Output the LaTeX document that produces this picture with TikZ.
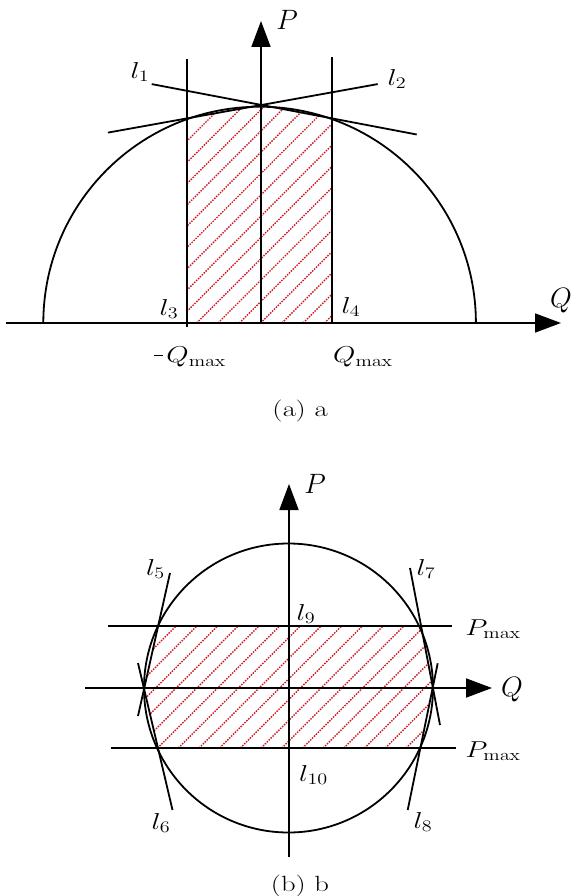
\RequirePackage{fix-cm}
\documentclass[tikz,border=0pt]{standalone}
\usetikzlibrary{arrows.meta}
\definecolor{hatchred}{RGB}{205,25,35}
\newcommand{\wideA}[1]{\scalebox{1.25}[1]{#1}}
\newcommand{\wideC}[1]{\scalebox{1.3}[1]{#1}}
\begin{document}
\begin{tikzpicture}[x=1pt,y=-1pt,
  ln/.style={line width=1.8pt, black},
  axis/.style={line width=1.8pt, black, -{Triangle[length=26pt,width=19pt]}},
  hatch/.style={hatchred, line width=1.4pt, dash pattern=on 1.5pt off 1.2pt},
  lab/.style={font=\fontsize{23}{26}\selectfont, inner sep=0pt},
  alab/.style={font=\fontsize{28}{32}\selectfont, inner sep=0pt},
  captxt/.style={font=\fontsize{22}{26}\selectfont, inner sep=0pt}]
\useasboundingbox (0,0) rectangle (573,896);

% ---------------- (a) ----------------
\coordinate (Qs1) at (6,323);
\coordinate (Qe1) at (561,323);
\coordinate (Ps1) at (261,323);
\coordinate (Pe1) at (261,21);
\coordinate (A) at (261.5,105);
\coordinate (L1a) at (151.7,84.1);
\coordinate (L1b) at (416.7,134.5);
\coordinate (L2a) at (108,132.6);
\coordinate (L2b) at (377.7,84.1);
\coordinate (V3a) at (187.3,327);
\coordinate (V3b) at (187.3,59);
\coordinate (V4a) at (332.3,323);
\coordinate (V4b) at (332.3,57);
\coordinate (C1L) at (43.3,323);

\begin{scope}
  \clip (187.3,323) -- (187.3,118.4) -- (A) -- (332.3,118.5) -- (332.3,323) -- cycle;
  \foreach \k in {-11,...,8}
    \draw[hatch] ({196.7+21.3*\k},323) -- ++(300,-300);
\end{scope}

\draw[ln] (C1L) arc[start angle=180, end angle=360, radius=216.3];
\draw[ln] (V3a) -- (V3b);
\draw[ln] (V4a) -- (V4b);
\draw[ln] (L1a) -- (L1b);
\draw[ln] (L2a) -- (L2b);
\draw[axis] (Qs1) -- (Qe1);
\draw[axis] (Ps1) -- (Pe1);

\node[alab] (Pa) at (287,20) {$P$};
\node[alab] (Qa) at (561,301) {$Q$};
\node[lab] (l1) at (140,72) {\wideA{$l_1$}};
\node[lab] (l2) at (397,79) {\wideA{$l_2$}};
\node[lab] (l3) at (169,309) {\wideA{$l_3$}};
\node[lab] (l4) at (351,307) {\wideA{$l_4$}};
\node[lab] (mQ) at (190,357) {\wideA{\rule[6.5pt]{7pt}{1.5pt}\hspace{3pt}$Q_{\max}$}};
\node[lab] (pQ) at (363,357) {\wideA{$Q_{\max}$}};
\node[captxt] (capa) at (300,411) {\wideC{$\mathrm{(a)\ a}$}};

% ---------------- (b) ----------------
\coordinate (O2) at (288.5,688);
\coordinate (Qs2) at (85,688);
\coordinate (Qe2) at (492,688);
\coordinate (Ps2) at (289,857);
\coordinate (Pe2) at (289,484);
\coordinate (H1a) at (108,626);
\coordinate (H1b) at (452,626);
\coordinate (H2a) at (111,748);
\coordinate (H2b) at (456,748);
\coordinate (L5a) at (170,573);
\coordinate (L5b) at (138,716);
\coordinate (L6a) at (138,663);
\coordinate (L6b) at (172.5,810);
\coordinate (L7a) at (410,568);
\coordinate (L7b) at (440,725);
\coordinate (L8a) at (437.7,663.3);
\coordinate (L8b) at (407.7,810);

\begin{scope}
  \clip (158.1,626) -- (421,626) -- (432.8,688) -- (420.4,748) -- (158,748) -- (144,688) -- cycle;
  \foreach \k in {-8,...,13}
    \draw[hatch] ({178.3+20.7*\k},748) -- ++(200,-200);
\end{scope}

\draw[ln] (O2) circle[radius=144.5];
\draw[ln] (H1a) -- (H1b);
\draw[ln] (H2a) -- (H2b);
\draw[ln] (L5a) -- (L5b);
\draw[ln] (L6a) -- (L6b);
\draw[ln] (L7a) -- (L7b);
\draw[ln] (L8a) -- (L8b);
\draw[axis] (Qs2) -- (Qe2);
\draw[axis] (Ps2) -- (Pe2);

\node[alab] (Pb) at (315,484) {$P$};
\node[alab] (Qb) at (512,690) {$Q$};
\node[lab] (l5) at (155.5,569) {\wideA{$l_5$}};
\node[lab] (l6) at (161,823) {\wideA{$l_6$}};
\node[lab] (l7) at (426,569) {\wideA{$l_7$}};
\node[lab] (l8) at (423,822) {\wideA{$l_8$}};
\node[lab] (l9) at (306,614) {\wideA{$l_9$}};
\node[lab] (l10) at (313.5,775) {\wideA{$l_{10}$}};
\node[lab] (Pm1) at (493,629) {\wideA{$P_{\max}$}};
\node[lab] (Pm2) at (493,751) {\wideA{$P_{\max}$}};
\node[captxt] (capb) at (300,886) {\wideC{$\mathrm{(b)\ b}$}};
\end{tikzpicture}
\end{document}
